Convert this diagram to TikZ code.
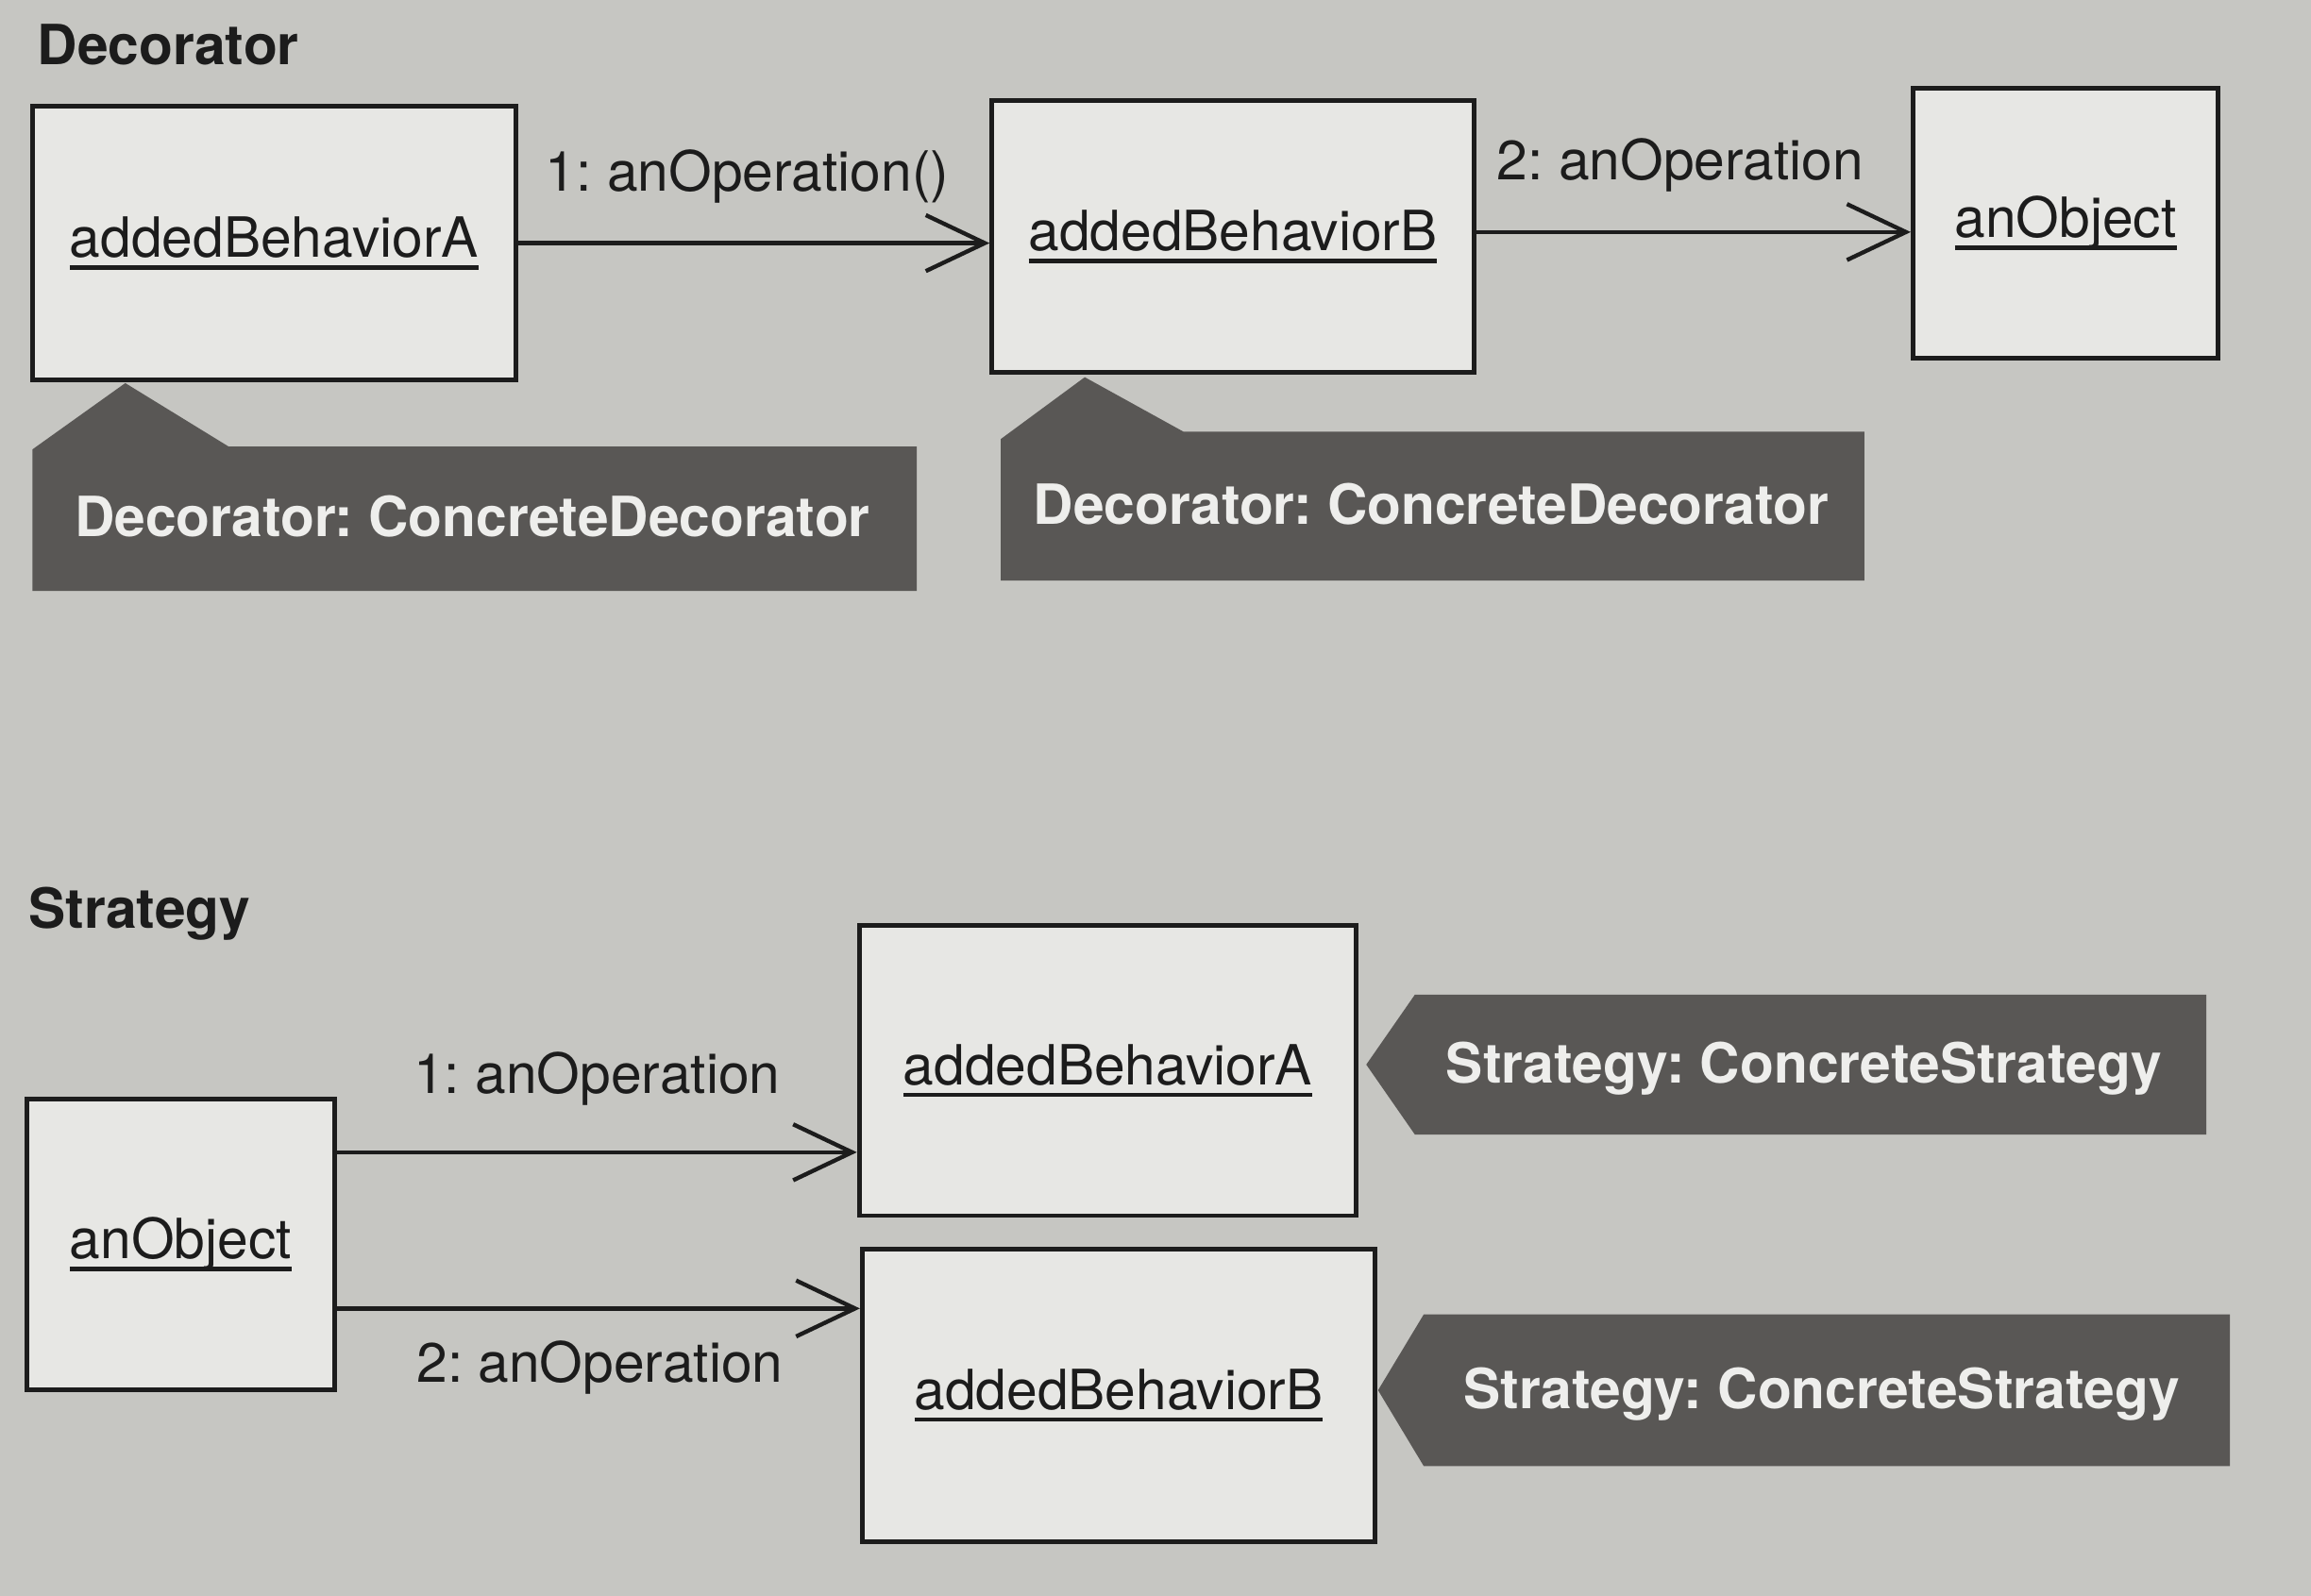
\documentclass[tikz,border=0pt]{standalone}
\usepackage{fontspec}
\setmainfont{TeX Gyre Heros}
\usetikzlibrary{arrows.meta}
\definecolor{paper}{RGB}{198,198,194}
\definecolor{boxfill}{RGB}{231,231,228}
\definecolor{tagfill}{RGB}{89,87,85}
\definecolor{tagtext}{RGB}{238,238,236}
\definecolor{ink}{RGB}{28,28,28}
\newcommand{\objname}[1]{\sbox0{#1}\rlap{\rule[-2.4pt]{\wd0}{0.85pt}}\usebox0}
\frenchspacing
\begin{document}
\begin{tikzpicture}[>={Straight Barb[length=4mm,width=3.8mm]},color=ink,line width=0.8pt,
	font=\fontsize{10.7pt}{12.8pt}\selectfont,
	obj/.style={draw=ink,fill=boxfill,line width=0.9pt,inner sep=0pt},
	tagshape/.style={fill=tagfill,draw=none},
	tagtxt/.style={anchor=base,text=tagtext,font=\fontsize{10.7pt}{12.8pt}\selectfont\bfseries},
	title/.style={anchor=base west,inner sep=0pt,font=\fontsize{10.7pt}{12.8pt}\selectfont\bfseries},
	msglabel/.style={anchor=base,inner sep=0pt},
	msg/.style={->}]
	% Paper
	\fill[paper] (0,0) rectangle (15.68,10.83);
	\useasboundingbox (0,0) rectangle (15.68,10.83);

	% Titles
	\node[title] (decotitle) at (0.24,10.39) {Decorator};
	\node[title] (strattitle) at (0.18,4.53) {Strategy};

	% Decorator objects
	\node[obj,minimum width=3.28cm,minimum height=1.86cm] (decoa) at (1.86,9.18) {\objname{addedBehaviorA}};
	\node[obj,minimum width=3.27cm,minimum height=1.85cm] (decob) at (8.365,9.225) {\objname{addedBehaviorB}};
	\node[obj,minimum width=2.07cm,minimum height=1.83cm] (decoobj) at (14.015,9.315) {\objname{anObject}};

	% Decorator messages
	\draw[msg] (decoa.east) -- (decoa.east -| decob.west);
	\draw[msg] ([yshift=0.3mm]decob.east) -- ([yshift=0.3mm]decob.east -| decoobj.west);
	\node[msglabel] (decomsga) at (5.07,9.53) {1: anOperation()};
	\node[msglabel] (decomsgb) at (11.40,9.61) {2: anOperation};

	% Decorator tags
	\fill[tagshape] (0.22,6.82) -- (0.22,7.78) -- (0.85,8.23) -- (1.55,7.80) -- (6.22,7.80) -- (6.22,6.82) -- cycle;
	\fill[tagshape] (6.79,6.89) -- (6.79,7.85) -- (7.36,8.27) -- (8.03,7.90) -- (12.65,7.90) -- (12.65,6.89) -- cycle;
	\node[tagtxt] (decotaga) at (3.205,7.19) {Decorator: ConcreteDecorator};
	\node[tagtxt] (decotagb) at (9.71,7.27) {Decorator: ConcreteDecorator};

	% Strategy objects
	\node[obj,minimum width=2.09cm,minimum height=1.97cm] (stratobj) at (1.225,2.385) {\objname{anObject}};
	\node[obj,minimum width=3.37cm,minimum height=1.97cm] (strata) at (7.515,3.565) {\objname{addedBehaviorA}};
	\node[obj,minimum width=3.48cm,minimum height=1.98cm] (stratb) at (7.59,1.36) {\objname{addedBehaviorB}};

	% Strategy messages
	\coordinate (msgstarta) at ([yshift=6.25mm]stratobj.east);
	\coordinate (msgstartb) at ([yshift=-4.35mm]stratobj.east);
	\draw[msg] (msgstarta) -- (msgstarta -| strata.west);
	\draw[msg] (msgstartb) -- (msgstartb -| stratb.west);
	\node[msglabel] (stratmsga) at (4.05,3.41) {1: anOperation};
	\node[msglabel] (stratmsgb) at (4.07,1.45) {2: anOperation};

	% Strategy tags
	\foreach \px/\tx/\tr/\ty/\by in {9.27/9.60/14.97/4.08/3.13, 9.35/9.66/15.13/1.91/0.88}
		\fill[tagshape] (\px,{(\ty+\by)/2}) -- (\tx,\ty) -- (\tr,\ty) -- (\tr,\by) -- (\tx,\by) -- cycle;
	\node[tagtxt] (strattaga) at (12.24,3.48) {Strategy: ConcreteStrategy};
	\node[tagtxt] (strattagb) at (12.36,1.27) {Strategy: ConcreteStrategy};
\end{tikzpicture}
\end{document}
